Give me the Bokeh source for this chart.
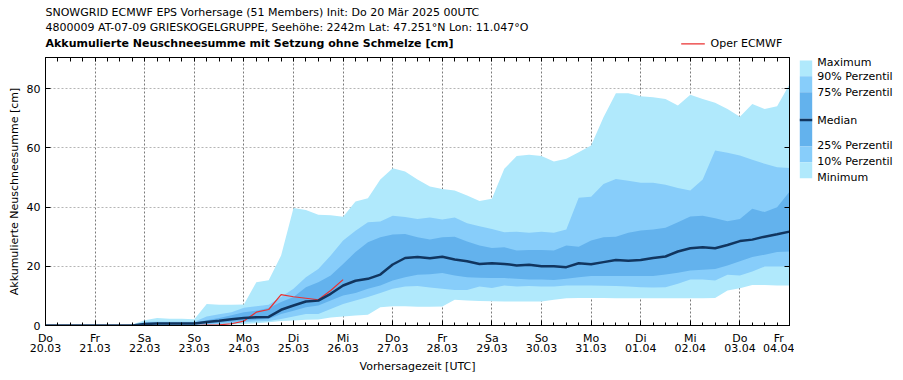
from bokeh.plotting import figure
from bokeh.layouts import column, row
from bokeh.models import ColumnDataSource, FixedTicker, LinearAxis, Range1d
from bokeh.core.properties import value
from bokeh.embed import file_html
from bokeh.resources import INLINE

# ---------------- data (6-hourly steps from init, 61 points) ----------------
day_names = ["Do", "Fr", "Sa", "So", "Mo", "Di", "Mi", "Do", "Fr", "Sa", "So", "Mo", "Di", "Mi", "Do", "Fr"]
day_dates = ["20.03", "21.03", "22.03", "23.03", "24.03", "25.03", "26.03", "27.03",
             "28.03", "29.03", "30.03", "31.03", "01.04", "02.04", "03.04", "04.04"]
y_ticks = [0, 20, 40, 60, 80]

ens_min = [0, 0, 0, 0, 0, 0, 0, 0, 0, 0, 0, 0, 0,
           0.1, 0.2, 0.3, 0.5, 0.8, 1.1, 1.5, 1.7, 1.9, 2.0, 2.7, 3.0, 3.4, 3.6, 6.2, 6.5, 6.5, 6.3,
           6.3, 6.4, 8.7, 8.4, 8.3, 8.2, 8.1, 8.1, 8.1, 8.1, 8.7, 9.2, 9.3, 9.3, 9.3, 9.2,
           9.2, 9.2, 9.2, 9.2, 9.2, 9.2, 9.2, 9.3, 11.8, 12.6, 13.7, 13.7, 13.5, 13.5]
ens_p10 = [0, 0, 0, 0, 0, 0, 0, 0, 0.1, 0.1, 0.1, 0.1, 0.1,
           0.3, 0.5, 0.8, 1.1, 1.35, 1.5, 2.2, 3.0, 3.9, 3.9, 5.6, 7.3, 8.4, 9.6, 11.0, 12.4, 13.2, 13.3,
           12.8, 12.4, 12.0, 12.0, 13.2, 12.7, 13.5, 13.2, 13.3, 13.2, 13.2, 13.5, 13.5, 13.5, 13.4, 13.3,
           13.2, 12.9, 12.8, 12.9, 14.1, 15.5, 15.5, 15.2, 17.1, 16.9, 18.2, 19.9, 19.9, 19.9]
ens_p25 = [0, 0, 0, 0, 0, 0, 0, 0, 0.3, 0.3, 0.3, 0.3, 0.3,
           0.6, 0.9, 1.3, 1.7, 1.9, 2.2, 3.9, 5.0, 6.2, 6.75, 8.4, 10.1, 11.0, 12.4, 13.5, 15.2, 16.3, 17.1,
           17.3, 17.7, 16.9, 16.3, 16.1, 16.0, 16.0, 15.75, 15.5, 15.5, 15.4, 15.75, 16.3, 16.7, 16.7, 16.7,
           16.7, 16.7, 16.7, 17.2, 17.8, 18.6, 18.8, 19.1, 20.3, 21.7, 23.1, 23.9, 24.8, 25.0]
ens_med = [0, 0, 0, 0, 0, 0, 0, 0, 0.5, 0.7, 0.7, 0.7, 0.7,
           1.2, 1.6, 2.1, 2.5, 2.8, 2.9, 5.3, 6.75, 8.1, 8.4, 10.7, 13.5, 15.1, 15.75, 17.2, 20.6, 22.8, 23.1,
           22.7, 23.2, 22.3, 21.7, 20.8, 21.0, 20.8, 20.3, 20.5, 20.0, 20.0, 19.7, 21.0, 20.7, 21.4, 22.1,
           21.9, 22.1, 22.8, 23.3, 25.0, 26.1, 26.4, 26.1, 27.2, 28.5, 29.0, 30.0, 30.8, 31.7]
ens_p75 = [0, 0, 0, 0, 0, 0, 0, 0, 0.9, 0.9, 0.9, 0.9, 0.9,
           1.8, 2.5, 3.5, 4.5, 5.0, 5.9, 7.9, 9.6, 12.9, 14.6, 16.9, 20.8, 24.8, 28.1, 29.8, 30.7, 30.9, 29.8,
           29.0, 29.8, 30.0, 28.4, 27.0, 26.2, 26.4, 25.3, 25.5, 25.5, 25.3, 27.0, 26.6, 28.7, 29.8, 30.0,
           31.3, 32.1, 32.4, 33.0, 34.9, 36.8, 37.1, 36.2, 35.2, 36.0, 39.4, 38.3, 39.9, 45.2]
ens_p90 = [0, 0, 0, 0, 0, 0, 0, 0, 1.3, 1.3, 1.3, 1.3, 1.3,
           3.0, 3.8, 4.5, 6.0, 6.5, 7.0, 9.6, 12.4, 16.3, 19.1, 23.6, 28.7, 32.0, 34.9, 35.1, 37.1, 36.6, 36.0,
           36.5, 35.8, 36.5, 34.5, 33.5, 32.6, 31.5, 31.7, 31.3, 31.7, 31.3, 32.4, 43.1, 43.5, 47.8, 49.5,
           48.9, 48.2, 48.2, 47.5, 46.4, 45.6, 49.3, 59.1, 58.3, 57.4, 56.0, 54.6, 53.4, 53.2]
ens_max = [0, 0, 0, 0, 0, 0, 0, 0.3, 1.8, 2.5, 2.3, 2.3, 2.1,
           7.3, 7.0, 7.0, 7.1, 14.6, 15.3, 23.6, 39.7, 39.0, 37.4, 37.2, 36.7, 41.9, 43.0, 49.3, 53.1, 52.0, 49.3,
           46.9, 46.1, 45.6, 43.9, 42.0, 42.8, 52.9, 57.2, 57.7, 57.2, 55.4, 56.3, 58.5, 60.8, 70.3, 78.4,
           78.4, 77.4, 77.1, 76.5, 74.3, 77.9, 76.5, 75.2, 73.1, 70.5, 74.8, 73.1, 74.0, 81.5]
oper = [0, 0, 0, 0, 0, 0, 0, 0, 0, 0, 0, 0, 0,
        0.1, 0.2, 0.6, 1.5, 4.5, 5.4, 10.4, 9.7, 9.2, 8.7, 11.8, 15.5]

title_lines = ["SNOWGRID ECMWF EPS Vorhersage (51 Members) Init: Do 20 M\u00e4r 2025 00UTC",
               "4800009 AT-07-09 GRIESKOGELGRUPPE, Seeh\u00f6he: 2242m Lat: 47.251\u00b0N Lon: 11.047\u00b0O",
               "Akkumulierte Neuschneesumme mit Setzung ohne Schmelze [cm]"]
legend_labels = ["Maximum", "90% Perzentil", "75% Perzentil", "Median",
                 "25% Perzentil", "10% Perzentil", "Minimum"]

x_days = [i * 0.25 for i in range(len(ens_med))]
x_oper = [i * 0.25 for i in range(len(oper))]

C_MAX = "#b0e9fc"
C_90 = "#87cdfa"
C_75 = "#63b2ed"
C_MED = "#11355f"
C_OPER = "#ea3030"
FONT = "DejaVu Sans"

HEAD_H = 50
MAIN_H = 325
MB_TOP, MB_BOTTOM = 7, 50


def blank_fig(w, h, xr, yr, top=0, bottom=0):
    f = figure(width=w, height=h, x_range=Range1d(*xr), y_range=Range1d(*yr),
               output_backend="svg", toolbar_location=None,
               min_border_left=0, min_border_right=0, min_border_top=top, min_border_bottom=bottom)
    f.axis.visible = False
    f.grid.visible = False
    f.outline_line_color = None
    f.background_fill_color = "white"
    f.border_fill_color = "white"
    return f


# ---------------- header (titles + oper legend), page pixel coordinates ----------------
head = blank_fig(898, HEAD_H, (0, 898), (HEAD_H, 0))
head.text(x=[45, 45], y=[12, 27], text=title_lines[:2], text_font=value(FONT), text_font_size="11px",
          text_baseline="middle", text_color="black")
head.text(x=[45], y=[43], text=title_lines[2:], text_font=value(FONT), text_font_size="11px",
          text_font_style="bold", text_baseline="middle", text_color="black")
head.line(x=[680.7, 704.3], y=[43.3, 43.3], line_color=C_OPER, line_width=1.2)
head.text(x=[710], y=[43], text=["Oper ECMWF"], text_font=value(FONT), text_font_size="11px",
          text_baseline="middle", text_color="black")

# ---------------- main plot ----------------
src = ColumnDataSource(dict(x=x_days, mn=ens_min, p10=ens_p10, p25=ens_p25, med=ens_med,
                            p75=ens_p75, p90=ens_p90, mx=ens_max))
osrc = ColumnDataSource(dict(x=x_oper, y=oper))

p = figure(width=794, height=MAIN_H, x_range=Range1d(0, 15), y_range=Range1d(0, 90.5),
           output_backend="svg", toolbar_location=None,
           min_border_left=45, min_border_right=5, min_border_top=MB_TOP, min_border_bottom=MB_BOTTOM)
p.background_fill_color = "white"
p.border_fill_color = "white"
p.outline_line_color = "black"
p.outline_line_width = 1

p.varea(x="x", y1="mn", y2="mx", source=src, fill_color=C_MAX)
p.varea(x="x", y1="p10", y2="p90", source=src, fill_color=C_90)
p.varea(x="x", y1="p25", y2="p75", source=src, fill_color=C_75)
p.line(x="x", y="y", source=osrc, line_color=C_OPER, line_width=1.2)
p.line(x="x", y="med", source=src, line_color=C_MED, line_width=2.5)

xt = FixedTicker(ticks=list(range(16)), minor_ticks=[i * 0.25 for i in range(61)])
yt = FixedTicker(ticks=y_ticks, minor_ticks=[])
xa = p.xaxis[0]
xa.ticker = xt
xa.major_label_overrides = {i: f"{day_names[i]}\n{day_dates[i]}" for i in range(16)}
xa.major_label_text_line_height = 0.8
xa.axis_label = "Vorhersagezeit [UTC]"
xa.axis_label_standoff = 2
ya = p.yaxis[0]
ya.ticker = yt
ya.axis_label = "Akkumulierte Neuschneesumme [cm]"
ya.axis_label_standoff = 3
for ax in (xa, ya):
    ax.major_tick_in = 5
    ax.major_tick_out = 0
    ax.minor_tick_in = 3
    ax.minor_tick_out = 0
    ax.major_label_text_font = FONT
    ax.major_label_text_font_size = "11px"
    ax.major_label_text_color = "black"
    ax.axis_label_text_font = FONT
    ax.axis_label_text_font_size = "11px"
    ax.axis_label_text_font_style = "normal"
    ax.axis_label_text_color = "black"
    ax.axis_line_color = "black"
    ax.major_tick_line_color = "black"
    ax.minor_tick_line_color = "black"
xa.major_label_standoff = 6
ya.major_label_standoff = 5

# top / right axes: ticks only (no labels)
top_t = FixedTicker(ticks=[], minor_ticks=[i * 0.25 for i in range(61)])
right_t = FixedTicker(ticks=[], minor_ticks=y_ticks)
top = LinearAxis(ticker=top_t, major_tick_in=0, major_tick_out=0, minor_tick_in=4, minor_tick_out=0,
                 major_label_standoff=0, axis_line_color="black", minor_tick_line_color="black")
right = LinearAxis(ticker=right_t, major_tick_in=0, major_tick_out=0, minor_tick_in=5, minor_tick_out=0,
                   major_label_standoff=0, axis_line_color="black", minor_tick_line_color="black")
p.add_layout(top, "above")
p.add_layout(right, "right")

p.xgrid.grid_line_color = "#7a7a7a"
p.xgrid.grid_line_dash = "2 2"
p.ygrid.grid_line_color = "#b5b5b5"
p.ygrid.grid_line_dash = "2 2"

# ---------------- right legend: frame matches the main frame, page pixel coordinates ----------------
frame_top_page = HEAD_H + MB_TOP
frame_bot_page = HEAD_H + MAIN_H - MB_BOTTOM
leg = blank_fig(104, MAIN_H, (794, 898), (frame_bot_page, frame_top_page), top=MB_TOP, bottom=MB_BOTTOM)
leg.quad(left=[799.3] * 7, right=[811.7] * 7,
         top=[60, 75.7, 91.7, 118.3, 120.5, 146, 161.7],
         bottom=[75.7, 91.7, 118.3, 120.5, 146, 161.7, 177.7],
         fill_color=[C_MAX, C_90, C_75, C_75, C_75, C_90, C_MAX], line_color=None)
leg.line(x=[799.3, 811.7], y=[119.4, 119.4], line_color=C_MED, line_width=2.5)
leg.text(x=[816.7] * 7, y=[61.8, 75.9, 91.7, 120, 145, 160.7, 176.7], text=legend_labels,
         text_font=value(FONT), text_font_size="11px", text_baseline="middle", text_color="black")

layout = column(head, row(p, leg))
open("out.html", "w").write(file_html(layout, INLINE))
